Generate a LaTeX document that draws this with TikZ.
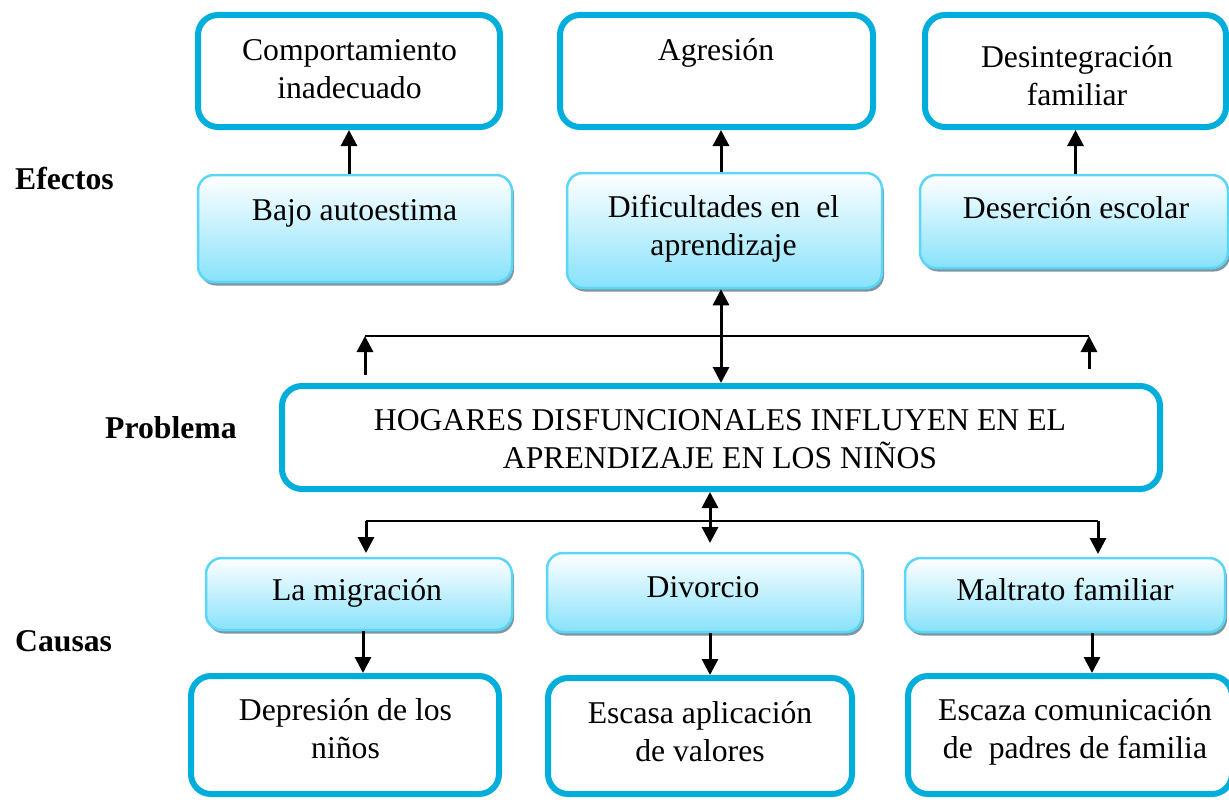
\documentclass[tikz,border=0pt]{standalone}
\usepackage{fontspec}
\setmainfont{Liberation Serif}
\usetikzlibrary{arrows.meta,shadows}
\definecolor{thickc}{RGB}{0,174,219}
\definecolor{lightc}{RGB}{92,214,246}
\definecolor{gradb}{RGB}{135,226,251}
\definecolor{shadc}{RGB}{125,150,162}
\begin{document}
\begin{tikzpicture}[x=1pt,y=-1pt,
  thickbox/.style={draw=thickc, line width=6pt, rounded corners=20pt, fill=white, inner sep=0pt},
  gradbox/.style={draw=lightc, line width=2.5pt, rounded corners=16pt, top color=white, bottom color=gradb, inner sep=0pt,
     drop shadow={shadow xshift=2pt, shadow yshift=-3.5pt, fill=shadc, opacity=1}},
  txt/.style={font=\fontsize{31.7}{38}\selectfont, align=center, inner sep=0pt, anchor=base},
  lbl/.style={font=\fontsize{31.7}{38}\selectfont\bfseries, inner sep=0pt, anchor=base west},
  arr/.style={line width=3pt, -{Triangle[width=16pt,length=16pt]}},
  darr/.style={line width=3pt, {Triangle[width=16pt,length=16pt]}-{Triangle[width=16pt,length=16pt]}},
  hline/.style={line width=2.2pt}
]
\useasboundingbox (0,0) rectangle (1229,800);

% effects, top row
\node[thickbox, minimum width=302pt, minimum height=112pt] (E1) at (349,71) {};
\node[thickbox, minimum width=313pt, minimum height=112pt] (E2) at (716.5,71) {};
\node[thickbox, minimum width=301pt, minimum height=112pt] (E3) at (1075.5,71) {};
% effects, second row
\node[gradbox, minimum width=314pt, minimum height=107pt] (F1) at (355,228.5) {};
\node[gradbox, minimum width=315pt, minimum height=115pt] (F2) at (724.5,230.5) {};
\node[gradbox, minimum width=308pt, minimum height=93pt] (F3) at (1074,221.5) {};
% problem
\node[thickbox, minimum width=878pt, minimum height=103pt] (P) at (721,437.5) {};
% causes
\node[gradbox, minimum width=306pt, minimum height=72pt] (C1) at (359,594) {};
\node[gradbox, minimum width=315pt, minimum height=79pt] (C2) at (704.5,592.5) {};
\node[gradbox, minimum width=320pt, minimum height=74pt] (C3) at (1065,595) {};
\node[thickbox, minimum width=308pt, minimum height=118pt] (D1) at (345,735) {};
\node[thickbox, minimum width=304pt, minimum height=116pt] (D2) at (700,736) {};
\node[thickbox, minimum width=324pt, minimum height=118pt] (D3) at (1070,735) {};

% texts (base anchor = baseline of the last line)
\node[txt] (tE1) at (349.5,98) {Comportamiento\\inadecuado};
\node[txt] (tE2) at (716,60) {Agresión};
\node[txt] (tE3) at (1077,105) {Desintegración\\familiar};
\node[txt] (tF1) at (354.5,220) {Bajo autoestima};
\node[txt] (tF2) at (723.5,255) {Dificultades en\ \ el\\aprendizaje};
\node[txt] (tF3) at (1076,218) {Deserción escolar};
\node[txt] (tP) at (720,468) {HOGARES DISFUNCIONALES INFLUYEN EN EL\\APRENDIZAJE EN LOS NIÑOS};
\node[txt] (tC1) at (357,600) {La migración};
\node[txt] (tC2) at (703,597) {Divorcio};
\node[txt] (tC3) at (1065,600) {Maltrato familiar};
\node[txt] (tD1) at (345.5,758) {Depresión de los\\niños};
\node[txt] (tD2) at (700,761) {Escasa aplicación\\de valores};
\node[txt] (tD3) at (1075,758) {Escaza comunicación\\de\ \ padres de familia};

\node[lbl] (lE) at (15,189) {Efectos};
\node[lbl] (lP) at (105,438) {Problema};
\node[lbl] (lC) at (15,651) {Causas};

% connector coordinates
\coordinate (ax2) at (721,0);
\coordinate (hl) at (365,336);
\coordinate (hr) at (1089,336);
\coordinate (a1) at (365,375);
\coordinate (a2) at (1089,369);
\coordinate (bx) at (710,0);
\coordinate (bm) at (710,543);
\coordinate (bl) at (366,521);
\coordinate (br) at (1098,521);
\coordinate (bl2) at (366,553);
\coordinate (br2) at (1098,554);
\coordinate (cx1) at (363,0);
\coordinate (cx3) at (1092,0);

% effects arrows
\draw[arr] (F1.north -| E1.south) -- (E1.south);
\draw[arr] (F2.north -| ax2) -- (E2.south -| ax2);
\draw[arr] (F3.north -| E3.south) -- (E3.south);
\draw[darr] (F2.south -| ax2) -- (P.north -| ax2);
\draw[hline] (hl) -- (hr);
\draw[arr] (a1) -- (hl);
\draw[arr] (a2) -- (hr);

% causes arrows
\draw[darr] (P.south -| bx) -- (bm);
\draw[hline] (bl) -- (br);
\draw[arr] (bl) -- (bl2);
\draw[arr] (br) -- (br2);
\draw[arr] (C1.south -| cx1) -- (D1.north -| cx1);
\draw[arr] (C2.south -| bx) -- (D2.north -| bx);
\draw[arr] (C3.south -| cx3) -- (D3.north -| cx3);
\end{tikzpicture}
\end{document}
